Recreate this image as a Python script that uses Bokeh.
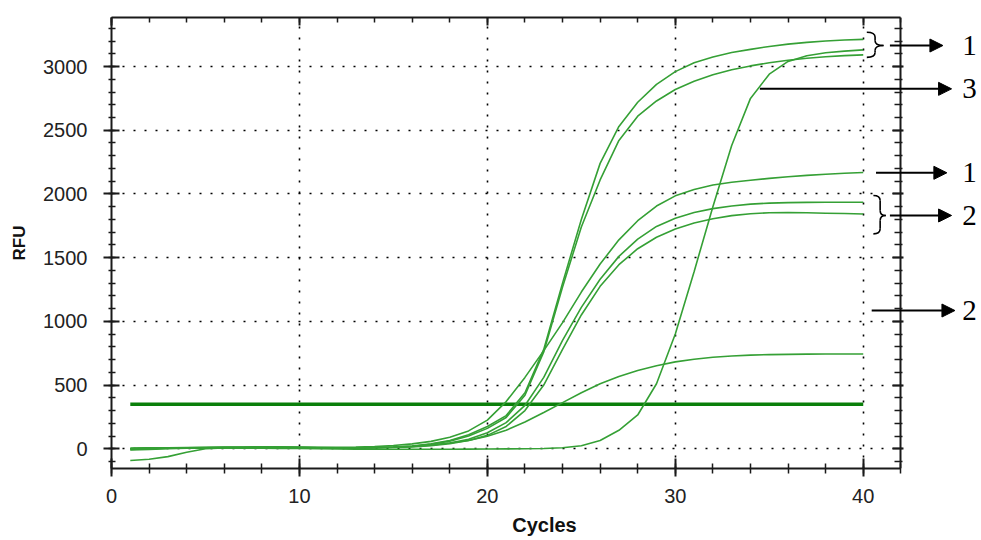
from bokeh.plotting import figure
from bokeh.models import (Range1d, LinearAxis, SingleIntervalTicker, Arrow, NormalHead, Label,
                          CustomJSTickFormatter)
from bokeh.embed import file_html
from bokeh.resources import INLINE

# ---------------- data ----------------
cycles = list(range(1, 41))

rfu_1a = [5, 8, 6, 8, 10, 12, 12, 14, 12, 12, 10, 8, 8, 10, 14, 22, 38, 65, 110, 175,
          260, 440, 780, 1300, 1800, 2240, 2530, 2720, 2860, 2960, 3030, 3075, 3110, 3135, 3158, 3176, 3190, 3200, 3208, 3213]
rfu_1b = [-5, 0, 4, 6, 8, 10, 10, 12, 12, 10, 8, 6, 6, 8, 12, 20, 35, 60, 100, 160,
          245, 420, 760, 1270, 1740, 2110, 2420, 2610, 2730, 2820, 2885, 2935, 2975, 3005, 3030, 3050, 3065, 3077, 3086, 3092]
rfu_1c = [0, 5, 8, 10, 12, 14, 14, 15, 15, 14, 12, 12, 14, 18, 25, 38, 58, 90, 140, 225,
          370, 560, 770, 990, 1230, 1450, 1640, 1790, 1905, 1985, 2035, 2070, 2092, 2108, 2122, 2135, 2146, 2155, 2162, 2168]
rfu_2a = [-10, -5, 0, 5, 8, 8, 10, 10, 8, 6, 5, 5, 6, 8, 12, 18, 28, 45, 75, 125,
          205, 340, 560, 850, 1110, 1330, 1510, 1645, 1745, 1810, 1855, 1885, 1905, 1920, 1928, 1932, 1934, 1935, 1935, 1935]
rfu_2b = [0, 4, 6, 6, 6, 8, 8, 6, 5, 4, 4, 5, 6, 8, 10, 15, 24, 40, 65, 105,
          175, 300, 500, 780, 1050, 1275, 1445, 1570, 1660, 1725, 1772, 1806, 1830, 1845, 1852, 1854, 1852, 1849, 1846, 1843]
rfu_2c = [-92, -82, -62, -28, 0, 6, 8, 8, 6, 6, 6, 6, 8, 10, 14, 20, 30, 45, 65, 98,
          145, 210, 285, 362, 440, 510, 568, 615, 652, 682, 703, 718, 728, 735, 739, 741, 743, 744, 744, 744]
rfu_3 = [0, 2, 4, 5, 6, 6, 5, 4, 3, 2, 0, -2, -3, -4, -4, -4, -4, -4, -3, -2,
         -1, 0, 2, 8, 24, 65, 145, 265, 510, 900, 1390, 1900, 2380, 2750, 2940, 3040, 3085, 3108, 3121, 3131]
series = [rfu_1a, rfu_1b, rfu_1c, rfu_2a, rfu_2b, rfu_2c, rfu_3]

threshold = 350
x_axis_end = 42
x_ticks_interval = 10
y_ticks_interval = 500

# ---------------- figure ----------------
p = figure(width=981, height=540, output_backend="svg", toolbar_location=None,
           x_range=Range1d(0, 46.08), y_range=Range1d(-155, 3385),
           min_border_left=111, min_border_right=4, min_border_top=17, min_border_bottom=72)
p.outline_line_color = None
p.background_fill_color = "white"
p.border_fill_color = "white"

AX = "#1a1a1a"
FONT = "Liberation Sans"

xt = SingleIntervalTicker(interval=x_ticks_interval, num_minor_ticks=5)
yt = SingleIntervalTicker(interval=y_ticks_interval, num_minor_ticks=5)

xa = p.xaxis[0]
ya = p.yaxis[0]
xa.ticker = xt
ya.ticker = yt
xa.bounds = (0, x_axis_end)
for a in (xa, ya):
    a.axis_line_width = 2
    a.axis_line_color = AX
    a.major_tick_line_color = AX
    a.minor_tick_line_color = AX
    a.major_tick_line_width = 2
    a.minor_tick_line_width = 1.5
    a.major_label_text_font = FONT
    a.major_label_text_font_size = "20px"
    a.major_label_text_color = "#222222"
    a.axis_label_text_font = FONT
    a.axis_label_text_font_style = "bold"
    a.axis_label_text_color = "#111111"
xa.major_tick_in = 10
xa.major_tick_out = 8
xa.minor_tick_in = 5
xa.minor_tick_out = 5
xa.major_label_standoff = 12
xa.axis_label = "Cycles"
xa.axis_label_text_font_size = "20px"
xa.axis_label_standoff = 8

ya.major_tick_in = 8
ya.major_tick_out = 8
ya.minor_tick_in = 4
ya.minor_tick_out = 3
ya.major_label_standoff = 16
ya.axis_label = "RFU"
ya.axis_label_text_font_size = "17px"
ya.axis_label_standoff = 11

p.xgrid.ticker = xt
p.ygrid.ticker = yt
p.xgrid.bounds = (0, x_axis_end)
p.ygrid.cross_bounds = (0, x_axis_end)
for g in (p.xgrid, p.ygrid):
    g.grid_line_color = "black"
    g.grid_line_dash = "2 9"
    g.grid_line_width = 1.6

blank = CustomJSTickFormatter(code="return ''")
top_ax = LinearAxis(ticker=xt, formatter=blank, bounds=(0, x_axis_end),
                    major_label_text_font_size="0px", major_label_standoff=0,
                    major_tick_in=8, major_tick_out=0, minor_tick_in=5, minor_tick_out=0,
                    axis_line_width=2, axis_line_color=AX, major_tick_line_color=AX,
                    minor_tick_line_color=AX, major_tick_line_width=2, minor_tick_line_width=1.5)
right_ax = LinearAxis(ticker=yt, formatter=blank, fixed_location=x_axis_end,
                      major_label_text_font_size="0px", major_label_standoff=0,
                      major_tick_in=8, major_tick_out=3, minor_tick_in=6, minor_tick_out=2,
                      axis_line_width=2, axis_line_color=AX, major_tick_line_color=AX,
                      minor_tick_line_color=AX, major_tick_line_width=2, minor_tick_line_width=1.5)
p.add_layout(top_ax, "above")
p.add_layout(right_ax, "right")

# ---------------- curves ----------------
p.segment(x0=cycles[0], x1=cycles[-1], y0=threshold, y1=threshold,
          line_color="#0a7f0a", line_width=3.5)
for s in series:
    p.line(cycles, s, line_color="#35a035", line_width=1.6)

# ---------------- annotations ----------------
def brace(x0, xc, xtip, top, mid, bot, r):
    p.quadratic(x0=[x0, xc, xtip, xc], y0=[top, mid + r, mid, bot + r],
                x1=[xc, xtip, xc, x0], y1=[top - r, mid, mid - r, bot],
                cx=[xc, xc, xc, xc], cy=[top, mid, mid, bot],
                line_color="black", line_width=1.6)
    p.segment(x0=[xc, xc], y0=[top - r, mid - r], x1=[xc, xc], y1=[mid + r, bot + r],
              line_color="black", line_width=1.6)

brace(40.19, 40.63, 41.08, 3269, 3165, 3072, 38)
brace(40.54, 40.90, 41.20, 1988, 1831, 1687, 40)

arrows = [  # (x_start, x_end, y, label)
    (41.42, 44.24, 3165, "1"),
    (34.50, 44.70, 2825, "3"),
    (40.68, 44.45, 2166, "1"),
    (41.42, 44.70, 1831, "2"),
    (40.45, 44.88, 1085, "2"),
]
for xs, xe, yy, lab in arrows:
    p.add_layout(Arrow(end=NormalHead(size=13, fill_color="black", line_color="black", line_width=1),
                       x_start=xs, y_start=yy, x_end=xe, y_end=yy,
                       line_color="black", line_width=2))
    p.add_layout(Label(x=45.66, y=yy, text=lab, text_font="Liberation Serif",
                       text_font_size="29px", text_align="center", text_baseline="middle",
                       text_color="black"))

open("out.html", "w").write(file_html(p, INLINE))
